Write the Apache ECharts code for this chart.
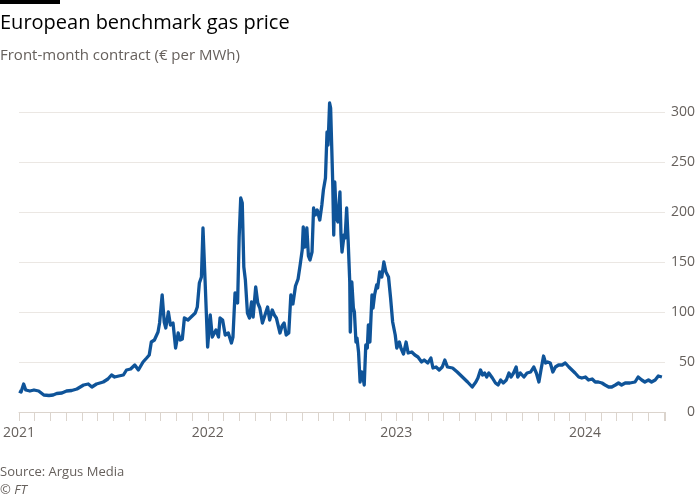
<!DOCTYPE html>
<html><head><meta charset="utf-8">
<script src="https://cdn.jsdelivr.net/npm/echarts@6/dist/echarts.min.js"></script>
<style>html,body{margin:0;padding:0;background:#fff}#c{width:700px;height:500px}</style>
</head><body><div id="c"></div>
<script>
const dates = [
"2021-01-01","2021-01-05","2021-01-10","2021-01-14","2021-01-22","2021-01-30","2021-02-08","2021-02-18","2021-02-28","2021-03-08",
"2021-03-15","2021-03-25","2021-04-03","2021-04-13","2021-04-23","2021-05-06","2021-05-15","2021-05-22","2021-05-31","2021-06-13",
"2021-06-22","2021-06-29","2021-07-05","2021-07-13","2021-07-22","2021-07-28","2021-08-05","2021-08-13","2021-08-20","2021-08-29",
"2021-09-05","2021-09-10","2021-09-14","2021-09-20","2021-09-27","2021-09-30","2021-10-05","2021-10-09","2021-10-12","2021-10-17",
"2021-10-21","2021-10-26","2021-10-31","2021-11-05","2021-11-09","2021-11-13","2021-11-17","2021-11-24","2021-11-30","2021-12-08",
"2021-12-12","2021-12-16","2021-12-20","2021-12-23","2021-12-27","2022-01-01","2022-01-06","2022-01-10","2022-01-17","2022-01-22",
"2022-01-25","2022-01-30","2022-02-04","2022-02-10","2022-02-16","2022-02-19","2022-02-23","2022-02-28","2022-03-03","2022-03-06",
"2022-03-09","2022-03-12","2022-03-15","2022-03-19","2022-03-23","2022-03-27","2022-03-30","2022-04-04","2022-04-08","2022-04-12",
"2022-04-17","2022-04-22","2022-04-27","2022-05-01","2022-05-06","2022-05-10","2022-05-14","2022-05-21","2022-05-25","2022-05-29",
"2022-06-02","2022-06-07","2022-06-11","2022-06-15","2022-06-20","2022-06-25","2022-06-29","2022-07-03","2022-07-05","2022-07-08",
"2022-07-12","2022-07-15","2022-07-18","2022-07-22","2022-07-25","2022-07-28","2022-08-01","2022-08-06","2022-08-10","2022-08-13",
"2022-08-17","2022-08-20","2022-08-22","2022-08-25","2022-08-27","2022-08-29","2022-08-31","2022-09-02","2022-09-04","2022-09-07",
"2022-09-10","2022-09-14","2022-09-16","2022-09-18","2022-09-22","2022-09-24","2022-09-27","2022-09-30","2022-10-03","2022-10-04",
"2022-10-07","2022-10-10","2022-10-12","2022-10-15","2022-10-17","2022-10-20","2022-10-23","2022-10-26","2022-10-28","2022-10-31",
"2022-11-03","2022-11-06","2022-11-08","2022-11-11","2022-11-15","2022-11-17","2022-11-20","2022-11-24","2022-11-26","2022-11-30",
"2022-12-04","2022-12-08","2022-12-12","2022-12-17","2022-12-21","2022-12-25","2022-12-30","2023-01-02","2023-01-07","2023-01-10",
"2023-01-15","2023-01-20","2023-01-24","2023-01-31","2023-02-06","2023-02-12","2023-02-19","2023-02-24","2023-03-03","2023-03-09",
"2023-03-13","2023-03-19","2023-03-25","2023-03-31","2023-04-05","2023-04-10","2023-04-20","2023-04-29","2023-05-09","2023-05-19",
"2023-05-28","2023-06-04","2023-06-08","2023-06-13","2023-06-17","2023-06-21","2023-06-25","2023-06-29","2023-07-06","2023-07-12",
"2023-07-17","2023-07-22","2023-07-27","2023-08-02","2023-08-07","2023-08-11","2023-08-16","2023-08-21","2023-08-24","2023-08-29",
"2023-09-05","2023-09-11","2023-09-18","2023-09-24","2023-09-29","2023-10-04","2023-10-08","2023-10-13","2023-10-17","2023-10-21",
"2023-10-26","2023-10-31","2023-11-05","2023-11-11","2023-11-18","2023-11-24","2023-12-01","2023-12-07","2023-12-13","2023-12-20",
"2023-12-26","2024-01-02","2024-01-08","2024-01-15","2024-01-21","2024-01-27","2024-02-03","2024-02-09","2024-02-16","2024-02-22",
"2024-02-29","2024-03-06","2024-03-12","2024-03-19","2024-03-28","2024-04-07","2024-04-13","2024-04-20","2024-04-26","2024-05-03",
"2024-05-09","2024-05-16","2024-05-22","2024-05-29"
];
const prices = [
21,20,28,22,21,22,21,17,16.5,17,
18.5,19,21,21.5,23,27,28,25,28,30,
33,37,35,36,37,42,43,47,42,50,
54,57,70,72,80,89,117,90,84,100,
87,89,64,79,72,73,94,92,95,99,
105,129,135,184,132,65,97,75,82,75,
94,92,77,79,69,75,119,109,175,214,
209,145,132,99,94,110,95,125,109,104,
89,97,105,92,102,97,94,79,86,89,
77,79,117,108,126,133,147,162,185,165,
184,156,152,160,204,197,202,192,207,222,
234,280,267,309,304,267,230,177,230,194,
190,220,177,160,177,174,204,170,130,80,
130,104,100,70,74,60,30,40,37,27,
67,64,87,70,117,104,117,127,124,140,
135,150,140,135,114,90,77,64,70,64,
58,70,59,60,57,55,50,52,49,54,
44,45,42,45,52,45,44,40,35,30,
25,30,34,42,37,39,35,39,34,29,
27,32,29,32,39,35,39,45,35,39,
35,39,40,45,39,30,42,56,49,50,
49,40,45,47,47,49,45,42,39,35,
34,35,32,33,30,30,29,27,25,25,
27,29,27,29,29,30,35,32,30,32,
30,32,36,35
];
const yTicks = [0,50,100,150,200,250,300];
const yearLabels = ["2021","2022","2023","2024"];
const titleText = "European benchmark gas price";
const subtitleText = "Front-month contract (€ per MWh)";
const sourceText = "Source: Argus Media";
const creditText = "© FT";

const FONT = "'Open Sans', sans-serif";
const GREY = "#66605c";
const AXIS = "#dbd4cd";
const DAY = 86400000;
const X_MIN = +new Date(2021, 0, 1);
const X_MAX = +new Date(2024, 5, 4);
const MONTH = 365.25 / 12 * DAY;
const chart = echarts.init(document.getElementById('c'), null, {renderer: 'canvas'});
const series = dates.map((d, i) => [d, prices[i]]);
chart.setOption({
  animation: false,
  backgroundColor: '#ffffff',
  graphic: [
    {type: 'rect', left: 0, top: 0, shape: {width: 60, height: 4}, style: {fill: '#000'}},
    {type: 'text', left: 0, top: 13, style: {text: titleText, font: "20px " + FONT, fill: '#000'}},
    {type: 'text', left: 0, top: 48, style: {text: subtitleText, font: "15px " + FONT, fill: GREY}},
    {type: 'text', left: 0, top: 466, style: {text: sourceText, font: "13px " + FONT, fill: GREY}},
    {type: 'text', left: 0, top: 484, style: {text: creditText, font: "italic 13px " + FONT, fill: GREY}}
  ],
  grid: {left: 16, right: 35, top: 112, bottom: 88, containLabel: false},
  xAxis: [{
    type: 'time',
    min: X_MIN, max: X_MAX,
    minInterval: 360 * DAY, maxInterval: 370 * DAY,
    axisLine: {show: false},
    axisTick: {show: false},
    splitLine: {show: false},
    axisLabel: {
      show: true, margin: 14, color: GREY, fontFamily: FONT, fontSize: 14,
      hideOverlap: false, showMinLabel: true, showMaxLabel: false,
      formatter: function (v) { const y = String(new Date(v).getFullYear()); const d = new Date(v); return (d.getMonth() === 0 && d.getDate() === 1 && yearLabels.includes(y)) ? y : ''; }
    }
  }, {
    type: 'value', position: 'bottom',
    min: X_MIN, max: X_MAX, interval: MONTH,
    axisLine: {show: true, onZero: false, lineStyle: {color: AXIS, width: 1}},
    axisTick: {show: true, length: 9, lineStyle: {color: AXIS, width: 1}},
    axisLabel: {show: false},
    splitLine: {show: false}
  }],
  yAxis: {
    type: 'value', position: 'right', min: 0, max: 300, interval: 50,
    axisLine: {show: false}, axisTick: {show: false},
    splitLine: {show: true, lineStyle: {color: '#ebe7e3', width: 1}},
    axisLabel: {align: 'right', margin: 30, color: GREY, fontFamily: FONT, fontSize: 14,
      formatter: v => yTicks.includes(v) ? String(v) : ''}
  },
  series: [{
    type: 'line', xAxisIndex: 0, data: series, showSymbol: false, symbol: 'none', clip: false,
    lineStyle: {color: '#0f5499', width: 3.3, join: 'round'}
  }]
});
</script></body></html>
